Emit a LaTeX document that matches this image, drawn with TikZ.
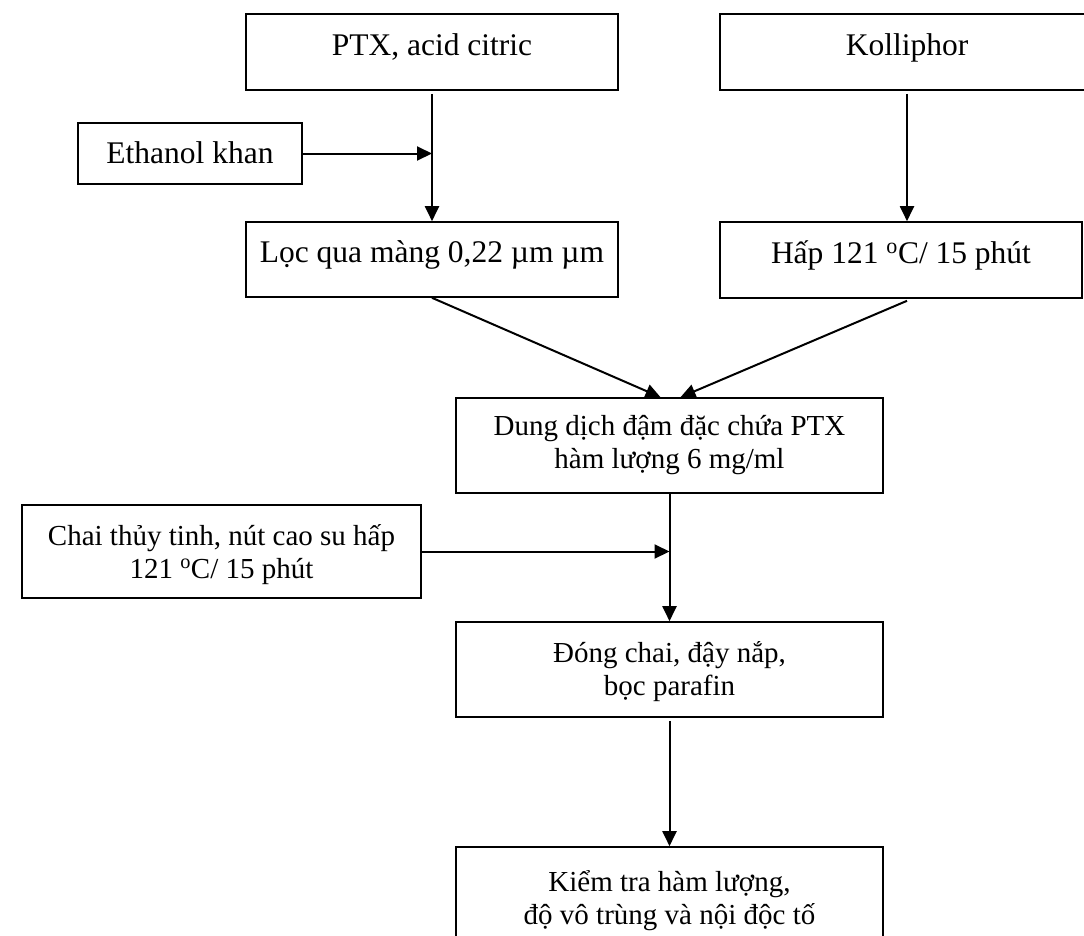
\documentclass[tikz,border=0pt]{standalone}
\usepackage{fontspec}
\setmainfont{Liberation Serif}
\usetikzlibrary{arrows.meta}

\tikzset{
  box/.style={draw, line width=1.6pt, inner sep=0pt, align=center,
    font=\fontsize{31.5}{34}\selectfont},
  twoline/.style={font=\fontsize{29}{33}\selectfont},
  arr/.style={line width=2pt, -{Triangle[length=15pt,width=14pt]}}
}

\begin{document}
\begin{tikzpicture}[x=1pt, y=-1pt]
  \useasboundingbox (0,0) rectangle (1084,935);

  % input materials
  \node[box, minimum width=372, minimum height=76, text height=41, text depth=35]
    (ptx) at (432,52) {PTX, acid citric};
  \node[box, minimum width=374, minimum height=76, text height=41, text depth=35]
    (kol) at (907,52) {Kolliphor};
  \node[box, minimum width=224, minimum height=61, text height=40, text depth=21]
    (eth) at (190,153.5) {Ethanol khan};

  % sterilisation steps
  \node[box, minimum width=372, minimum height=75, text height=40, text depth=35]
    (loc) at (432,259.5) {Lọc qua màng 0,22 µm µm};
  \node[box, minimum width=362, minimum height=76, text height=41, text depth=35]
    (hap) at (901,260) {Hấp 121 \textsuperscript{o}C/ 15 phút};

  % concentrate, filling and control
  \node[box, twoline, minimum width=427, minimum height=95, text height=70, text depth=25]
    (dung) at (669.5,445.5) {Dung dịch đậm đặc chứa PTX\\hàm lượng 6 mg/ml};
  \node[box, twoline, minimum width=399, minimum height=93, text height=73, text depth=20]
    (chai) at (221.5,551.5) {Chai thủy tinh, nút cao su hấp\\121 \textsuperscript{o}C/ 15 phút};
  \node[box, twoline, minimum width=427, minimum height=95, text height=73, text depth=22]
    (dong) at (669.5,669.5) {Đóng chai, đậy nắp,\\bọc parafin};
  \node[box, twoline, minimum width=427, minimum height=95, text height=77, text depth=18]
    (kiem) at (669.5,894.5) {Kiểm tra hàm lượng,\\độ vô trùng và nội độc tố};

  % connectors
  \draw[arr] ([yshift=-3pt]ptx.south) -- (loc.north);
  \draw[arr] (eth.east) -- (eth.east -| ptx.south);
  \draw[arr] ([yshift=-3pt]kol.south) -- (kol.south |- hap.north);
  \draw[arr] (loc.south) -- ([xshift=-9pt]dung.north);
  \draw[arr] ([yshift=-2pt]kol.south |- hap.south) -- ([xshift=11pt]dung.north);
  \draw[arr] (dung.south) -- (dong.north);
  \draw[arr] (chai.east) -- (chai.east -| dung.south);
  \draw[arr] ([yshift=-3pt]dong.south) -- (kiem.north);
\end{tikzpicture}
\end{document}
